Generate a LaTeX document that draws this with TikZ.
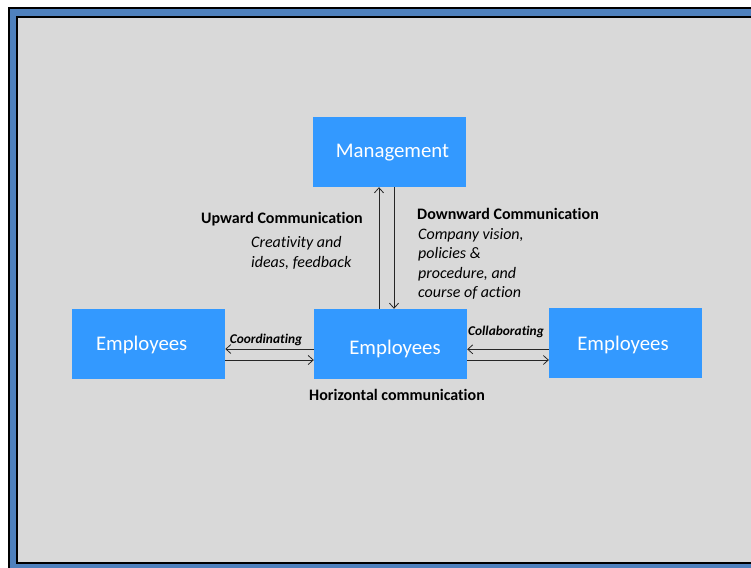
\documentclass[tikz,border=0pt]{standalone}
\usepackage{fontspec}
\setmainfont{Carlito}[Ligatures=NoCommon]
\usetikzlibrary{arrows.meta}
\definecolor{boxblue}{RGB}{51,153,255}
\definecolor{frameblue}{RGB}{79,129,189}
\definecolor{bggray}{RGB}{217,217,217}
\begin{document}
\begin{tikzpicture}[x=1pt,y=-1pt,
  box/.style={fill=boxblue,draw=none,minimum width=153pt,minimum height=70pt,inner sep=0pt},
  boxtext/.style={text=white,font=\fontsize{20.8}{24}\selectfont,inner sep=0pt,anchor=base},
  arr/.style={draw=black!85,line width=0.8pt,-{Straight Barb[length=5pt,width=9pt]}},
  head/.style={font=\bfseries\fontsize{16}{19}\selectfont,inner sep=0pt},
  body/.style={font=\itshape\fontsize{16}{19.3}\selectfont,align=left,inner sep=0pt},
  small/.style={font=\bfseries\itshape\fontsize{13.4}{16}\selectfont,inner sep=0pt}]
\useasboundingbox (0,0) rectangle (751,567);
\fill[white] (0,0) rectangle (751,567);
\draw[fill=frameblue,line width=1.5pt] (9,8) rectangle (780,580);
\draw[fill=bggray,line width=1.5pt] (17,17) rectangle (770,563);
\node[box] (mgmt) at (389.2,152) {};
\node[box] (mid) at (390.5,344) {};
\node[box] (left) at (148.6,344) {};
\node[box] (right) at (625.6,343.3) {};
\node[boxtext] (mgmtt) at (392.5,157.3) {Management};
\node[boxtext] (midt) at (395,354.3) {Employees};
\node[boxtext] (leftt) at (141.7,350.7) {Employees};
\node[boxtext] (rightt) at (623,350) {Employees};
\draw[arr] ([xshift=-11.5pt]mid.north) -- ([xshift=-11.5pt]mid.north |- mgmt.south);
\draw[arr] ([xshift=4.8pt]mgmt.south) -- ([xshift=4.8pt]mgmt.south |- mid.north);
\draw[arr] ([yshift=-5pt]mid.west) -- ([yshift=-5pt]mid.west -| left.east);
\draw[arr] ([yshift=-16pt]left.east) -- ([yshift=-16pt]left.east -| mid.west);
\draw[arr] ([yshift=-6pt]right.west) -- ([yshift=-6pt]right.west -| mid.east);
\draw[arr] ([yshift=-16pt]mid.east) -- ([yshift=-16pt]mid.east -| right.west);
\node[head,anchor=west] (up) at (201,219) {Upward Communication};
\node[body,anchor=west] (upt) at (251,253) {Creativity and\\ideas, feedback};
\node[head,anchor=west] (down) at (417,214) {Downward Communication};
\node[body,anchor=west] (downt) at (418,264) {Company vision,\\policies \&\\procedure, and\\course of action};
\node[small] (coord) at (266,340) {Coordinating};
\node[small] (coll) at (506,332) {Collaborating};
\node[head] (horiz) at (397,395) {Horizontal communication};
\end{tikzpicture}
\end{document}
